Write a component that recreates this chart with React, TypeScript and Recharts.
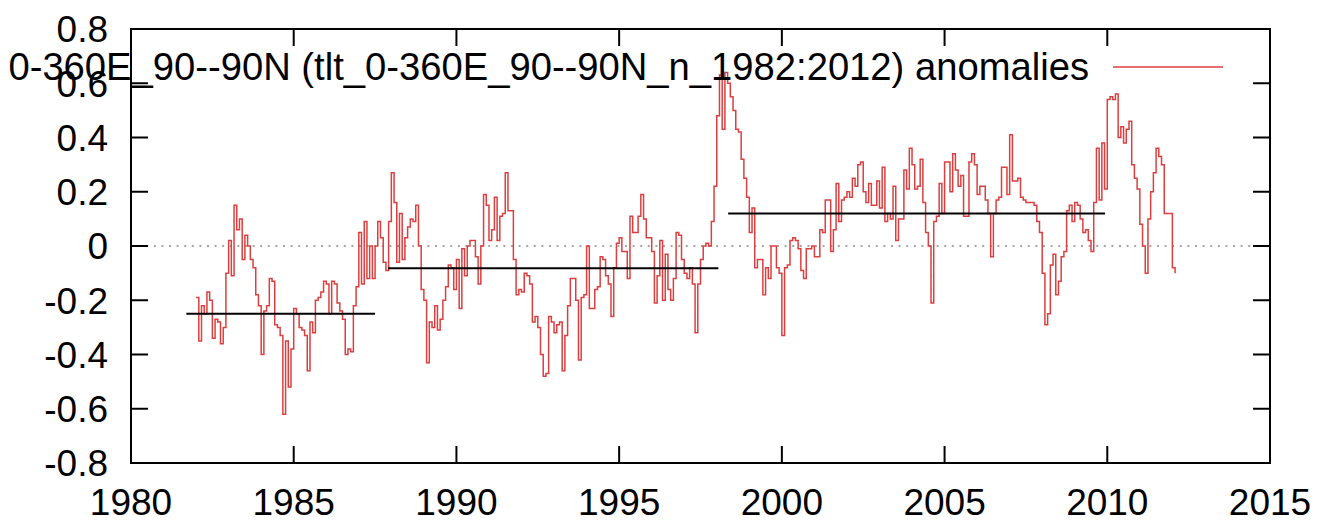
import { LineChart, Line, XAxis, YAxis, ReferenceLine, ReferenceArea, Legend } from 'recharts'

// Monthly TLT anomalies, one row per year, Jan..Dec
const anom1982to1986 = [
  -0.19, -0.35, -0.22, -0.25, -0.17, -0.20, -0.34, -0.27, -0.28, -0.36, -0.30, -0.10,
  0.02, -0.11, 0.15, 0.06, 0.10, -0.05, 0.04, 0.00, -0.05, -0.08, -0.18, -0.22,
  -0.40, -0.24, -0.22, -0.12, -0.13, -0.29, -0.30, -0.33, -0.62, -0.35, -0.52, -0.38,
  -0.23, -0.25, -0.30, -0.31, -0.33, -0.46, -0.28, -0.32, -0.20, -0.19, -0.17, -0.13,
  -0.14, -0.25, -0.13, -0.14, -0.21, -0.24, -0.27, -0.40, -0.38, -0.39, -0.22, -0.15,
]
const anom1987to1991 = [
  0.05, -0.14, 0.09, -0.12, 0.00, -0.12, 0.00, 0.09, 0.03, -0.06, -0.09, 0.09,
  0.27, 0.16, -0.06, 0.12, -0.05, 0.03, 0.07, 0.10, 0.09, 0.15, 0.00, -0.16,
  -0.20, -0.43, -0.28, -0.30, -0.22, -0.31, -0.27, -0.20, -0.15, -0.07, -0.08, -0.16,
  -0.05, -0.23, -0.01, -0.11, 0.00, 0.02, 0.02, -0.04, -0.14, 0.00, 0.19, 0.15,
  0.02, 0.06, 0.18, 0.02, 0.11, 0.12, 0.27, 0.13, 0.13, -0.05, -0.18, -0.16,
]
const anom1992to1996 = [
  -0.17, -0.10, -0.11, -0.14, -0.28, -0.26, -0.30, -0.40, -0.48, -0.47, -0.26, -0.28,
  -0.32, -0.29, -0.28, -0.46, -0.33, -0.22, -0.12, -0.12, -0.20, -0.42, -0.19, -0.18,
  0.00, -0.23, -0.23, -0.16, -0.15, -0.04, -0.05, -0.11, -0.14, -0.26, -0.08, 0.01,
  0.03, -0.02, -0.02, -0.12, 0.11, 0.05, 0.05, 0.11, 0.19, 0.10, 0.03, 0.03,
  -0.02, -0.21, -0.11, 0.02, -0.20, -0.03, -0.16, -0.20, -0.12, 0.05, 0.04, -0.05,
]
const anom1997to2001 = [
  -0.10, -0.12, -0.08, -0.14, -0.32, -0.14, -0.05, 0.00, 0.01, 0.00, 0.09, 0.22,
  0.48, 0.63, 0.43, 0.64, 0.60, 0.55, 0.50, 0.43, 0.42, 0.32, 0.25, 0.18,
  0.05, 0.14, -0.08, -0.05, -0.05, -0.18, -0.08, -0.12, 0.00, 0.00, -0.08, -0.10,
  -0.33, -0.08, -0.07, 0.02, 0.03, 0.02, -0.01, -0.09, -0.12, -0.01, -0.01, 0.00,
  -0.04, -0.04, 0.06, 0.05, 0.17, 0.17, -0.02, 0.06, 0.23, 0.09, 0.17, 0.18,
]
const anom2002to2006 = [
  0.20, 0.18, 0.25, 0.22, 0.30, 0.31, 0.20, 0.16, 0.23, 0.15, 0.15, 0.24,
  0.14, 0.29, 0.09, 0.12, 0.10, 0.22, 0.02, 0.10, 0.10, 0.28, 0.21, 0.36,
  0.30, 0.21, 0.22, 0.32, 0.16, 0.05, 0.00, -0.21, 0.09, 0.11, 0.23, 0.12,
  0.31, 0.31, 0.20, 0.34, 0.28, 0.22, 0.26, 0.11, 0.11, 0.31, 0.34, 0.30,
  0.19, 0.22, 0.22, 0.17, 0.12, -0.04, 0.12, 0.17, 0.18, 0.29, 0.29, 0.19,
]
const anom2007to2012 = [
  0.41, 0.24, 0.24, 0.25, 0.18, 0.17, 0.16, 0.16, 0.16, 0.15, 0.09, 0.05,
  -0.10, -0.29, -0.25, -0.07, -0.03, -0.18, -0.13, -0.04, -0.02, 0.13, 0.15, 0.09,
  0.16, 0.15, 0.10, 0.05, 0.06, 0.02, -0.02, 0.16, 0.36, 0.17, 0.38, 0.21,
  0.54, 0.55, 0.54, 0.56, 0.40, 0.44, 0.38, 0.43, 0.46, 0.30, 0.25, 0.21,
  0.08, 0.00, -0.10, 0.10, 0.20, 0.27, 0.36, 0.33, 0.30, 0.12, 0.12, 0.12,
  -0.08, -0.10,
]

const START_YEAR = 1982

// period means drawn as flat black segments
const periodMeans = [
  { from: 1981.7, to: 1987.5, value: -0.25 },
  { from: 1987.9, to: 1998.05, value: -0.082 },
  { from: 1998.35, to: 2009.93, value: 0.12 },
]

const xTicks = [1980, 1985, 1990, 1995, 2000, 2005, 2010, 2015]
const yTicks = [-0.8, -0.6, -0.4, -0.2, 0, 0.2, 0.4, 0.6, 0.8]

const legendLabel = '0-360E_90--90N (tlt_0-360E_90--90N_n_1982:2012) anomalies'

const monthly = [
  ...anom1982to1986,
  ...anom1987to1991,
  ...anom1992to1996,
  ...anom1997to2001,
  ...anom2002to2006,
  ...anom2007to2012,
]
const series = monthly.map((v, i) => ({ t: START_YEAR + i / 12, anom: v }))

const W = 1308
const H = 515
const PLOT = { left: 123, top: 21, right: 1262, bottom: 455 }
const TICK = 17
const FONT = '"Liberation Sans", Arial, sans-serif'
const RED = '#dc3f3f'

// eslint-disable-next-line @typescript-eslint/no-explicit-any
function XTick({ x, payload }: any) {
  return (
    <g>
      <line x1={x} x2={x} y1={PLOT.bottom} y2={PLOT.bottom - TICK} stroke="#000" strokeWidth={2} />
      <line x1={x} x2={x} y1={PLOT.top} y2={PLOT.top + TICK} stroke="#000" strokeWidth={2} />
      <text x={x} y={507} textAnchor="middle" fontSize={37} fill="#000" fontFamily={FONT}>
        {payload.value}
      </text>
    </g>
  )
}

// eslint-disable-next-line @typescript-eslint/no-explicit-any
function YTick({ y, payload }: any) {
  const v = payload.value
  return (
    <g>
      <line x1={PLOT.left} x2={PLOT.left + TICK} y1={y} y2={y} stroke="#000" strokeWidth={2} />
      <line x1={PLOT.right - TICK} x2={PLOT.right} y1={y} y2={y} stroke="#000" strokeWidth={2} />
      <text x={100} y={y} dy="0.36em" textAnchor="end" fontSize={37} fill="#000" fontFamily={FONT}>
        {v === 0 ? '0' : v.toFixed(1)}
      </text>
    </g>
  )
}

function KeyBox() {
  return (
    <div style={{ display: 'flex', justifyContent: 'flex-end', alignItems: 'center', width: 1215 }}>
      <span style={{ fontSize: 38.2, fontFamily: FONT, color: '#000', lineHeight: '42px', whiteSpace: 'nowrap' }}>
        {legendLabel}
      </span>
      <svg width={110} height={6} style={{ marginLeft: 24, flexShrink: 0 }}>
        <line x1={0} x2={110} y1={3} y2={3} stroke={RED} strokeWidth={1.5} />
      </svg>
    </div>
  )
}

export default function App() {
  return (
    <div style={{ fontFamily: FONT }}>
      <LineChart width={W} height={H} data={series} margin={{ top: PLOT.top, right: W - PLOT.right, bottom: 0, left: 0 }}>
        <XAxis
          type="number"
          dataKey="t"
          domain={[1980, 2015]}
          ticks={xTicks}
          tick={<XTick />}
          tickLine={false}
          axisLine={false}
          height={H - PLOT.bottom}
          allowDataOverflow
        />
        <YAxis
          type="number"
          domain={[-0.8, 0.8]}
          ticks={yTicks}
          tick={<YTick />}
          tickLine={false}
          axisLine={false}
          width={PLOT.left}
          allowDataOverflow
        />
        <ReferenceLine y={0} stroke="#888" strokeWidth={1.5} strokeDasharray="2 5.6" />
        <Line
          type="stepAfter"
          dataKey="anom"
          stroke={RED}
          strokeWidth={1.5}
          dot={false}
          isAnimationActive={false}
        />
        {periodMeans.map((p) => (
          <ReferenceLine
            key={p.from}
            segment={[{ x: p.from, y: p.value }, { x: p.to, y: p.value }]}
            stroke="#000"
            strokeWidth={2}
          />
        ))}
        <ReferenceArea x1={1980} x2={2015} y1={-0.8} y2={0.8} fill="none" fillOpacity={0} stroke="#000" strokeWidth={2} />
        <Legend
          layout="vertical"
          align="center"
          verticalAlign="middle"
          content={<KeyBox />}
          wrapperStyle={{ top: 38, left: 0, width: 1215 }}
        />
      </LineChart>
    </div>
  )
}
